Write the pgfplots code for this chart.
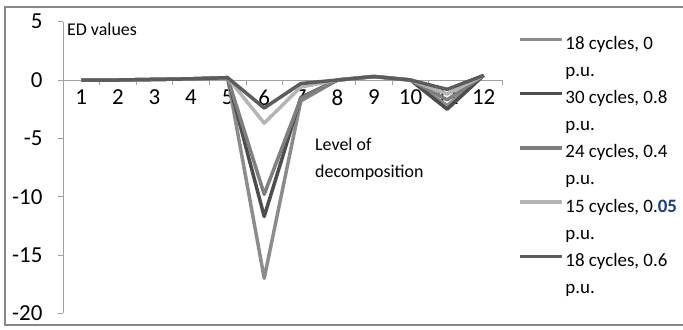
\documentclass[border=0pt]{standalone}
\usepackage{fontspec}
\setmainfont{Carlito}
\usepackage{pgfplots}
\pgfplotsset{compat=1.18}

\definecolor{serA}{HTML}{8C8C8C}
\definecolor{serB}{HTML}{4D4D4D}
\definecolor{serC}{HTML}{7F7F7F}
\definecolor{serD}{HTML}{B4B4B4}
\definecolor{serE}{HTML}{5C5C5C}
\definecolor{axisgray}{HTML}{A0A0A0}
\definecolor{framegray}{HTML}{878787}
\definecolor{numblue}{HTML}{1F3B73}

\begin{document}
\begin{tikzpicture}
% fixed page size: the axis box sits at the origin
\path[use as bounding box] (-63bp,-16.7bp) rectangle (620bp,313.3bp);
\draw[framegray, line width=1.2bp] (-58bp,-11.7bp) rectangle (625bp,306.3bp);
\begin{axis}[
  name=ax, at={(0,0)}, anchor=south west,
  scale only axis, width=439bp, height=291.6bp,
  xmin=0.5, xmax=12.5, ymin=-20, ymax=5,
  axis x line=middle, axis y line=left,
  axis line style={-, draw=axisgray, line width=0.8bp},
  xtick={1,...,12}, minor xtick={0.5,1.5,...,12.5},
  major x tick style={draw=none},
  minor x tick style={draw=axisgray, line width=0.8bp},
  ytick={-20,-15,...,5},
  y tick style={draw=axisgray, line width=0.8bp},
  tick align=outside, major tick length=5bp, minor tick length=5bp,
  hide obscured y ticks=false,
  ticklabel style={font=\fontsize{23}{27}\selectfont, text=black},
  yticklabel style={xshift=-12bp},
  xticklabel style={yshift=-1bp},
  /pgf/number format/assume math mode=true,
  clip=false,
  legend style={at={(axis description cs:1.0364,0.963)}, anchor=north west,
    draw=none, fill=none, inner sep=0pt, outer sep=0pt, row sep=0pt,
    column sep=2bp, font=\fontsize{19}{23}\selectfont,
    nodes={inner sep=0pt, text height=17bp, text depth=10.1bp}},
  legend cell align=left,
  legend image code/.code={\draw[#1] (0bp,6.5bp) -- (42bp,6.5bp);},
  every axis plot/.append style={line width=3.5bp, line join=round},
]
\addplot[serA] coordinates {(1,0) (2,0) (3,0.05) (4,0.1) (5,0.2) (6,-17) (7,-1.8) (8,0) (9,0.3) (10,0) (11,-2.2) (12,0.4)};
\addlegendentry{18 cycles, 0}
\addlegendimage{empty legend}\addlegendentry{p.u.}
\addplot[serB] coordinates {(1,0) (2,0) (3,0.05) (4,0.1) (5,0.2) (6,-11.7) (7,-1.5) (8,0) (9,0.3) (10,0) (11,-2.5) (12,0.4)};
\addlegendentry{30 cycles, 0.8}
\addlegendimage{empty legend}\addlegendentry{p.u.}
\addplot[serC] coordinates {(1,0) (2,0) (3,0.05) (4,0.1) (5,0.2) (6,-9.8) (7,-1.6) (8,0) (9,0.3) (10,0) (11,-1.7) (12,0.4)};
\addlegendentry{24 cycles, 0.4}
\addlegendimage{empty legend}\addlegendentry{p.u.}
\addplot[serD] coordinates {(1,0) (2,0) (3,0.05) (4,0.1) (5,0.2) (6,-3.7) (7,-0.6) (8,0) (9,0.3) (10,0) (11,-1.2) (12,0.4)};
\addlegendentry{15 cycles, 0.\textcolor{numblue}{\textbf{05}}}
\addlegendimage{empty legend}\addlegendentry{p.u.}
\addplot[serE] coordinates {(1,0) (2,0) (3,0.05) (4,0.1) (5,0.2) (6,-2.4) (7,-0.3) (8,0) (9,0.3) (10,0) (11,-0.8) (12,0.4)};
\addlegendentry{18 cycles, 0.6}
\addlegendimage{empty legend}\addlegendentry{p.u.}
\node[anchor=base west, inner sep=0pt, font=\fontsize{18}{22}\selectfont] at (axis description cs:0.009,0.954) {ED values};
\node[anchor=base west, inner sep=0pt, font=\fontsize{18}{22}\selectfont] at (axis description cs:0.574,0.5566) {Level of};
\node[anchor=base west, inner sep=0pt, font=\fontsize{18}{22}\selectfont] at (axis description cs:0.574,0.464) {decomposition};
\end{axis}
\end{tikzpicture}
\end{document}
